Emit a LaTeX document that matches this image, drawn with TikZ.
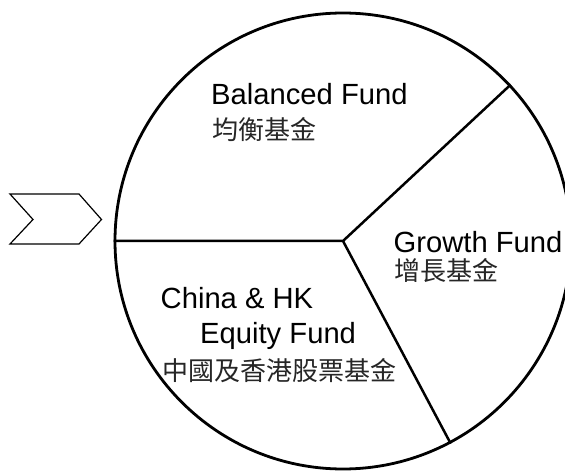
\documentclass[tikz,border=0pt]{standalone}
\usepackage{fontspec}
\setmainfont{Liberation Sans}
\newfontfamily\cjk{Noto Sans CJK TC}
\begin{document}
\begin{tikzpicture}[x=1pt,y=-1pt,
  lbl/.style={anchor=base west,inner sep=0pt,font=\fontsize{29.2}{34}\selectfont},
  clbl/.style={anchor=base west,inner sep=0pt,text=black!85,font=\cjk\fontsize{26}{30}\selectfont},
  pieline/.style={line width=2.5pt,line join=miter},
  chev/.style={line width=1.2pt,line join=miter}]
\useasboundingbox (0,0) rectangle (565,473);
\clip (0,0) rectangle (565,473);
\node[circle,draw,line width=2.8pt,minimum size=456pt,inner sep=0pt] (pie) at (343,241) {};
\coordinate (c) at (343,241);
\draw[pieline] (pie.180) -- (c) -- (pie.43.2);
\draw[pieline] (c) -- (pie.-62.9);
\draw[chev] (10,194) coordinate (ch1) -- (79,194) coordinate (ch2) -- (101.5,219.5) coordinate (ch3)
  -- (79,244) coordinate (ch4) -- (10,244) coordinate (ch5) -- (33,219.5) coordinate (ch6) -- cycle;
\node[lbl] (bal) at (211,105) {Balanced Fund};
\node[clbl] (balc) at (212,140) {均衡基金};
\node[lbl] (gro) at (393.5,252) {Growth Fund};
\node[clbl] (groc) at (394,280) {增長基金};
\node[lbl] (chi) at (160.5,308) {China \& HK};
\node[lbl] (equ) at (200,343) {Equity Fund};
\node[clbl] (chic) at (162,380) {中國及香港股票基金};
\end{tikzpicture}
\end{document}
